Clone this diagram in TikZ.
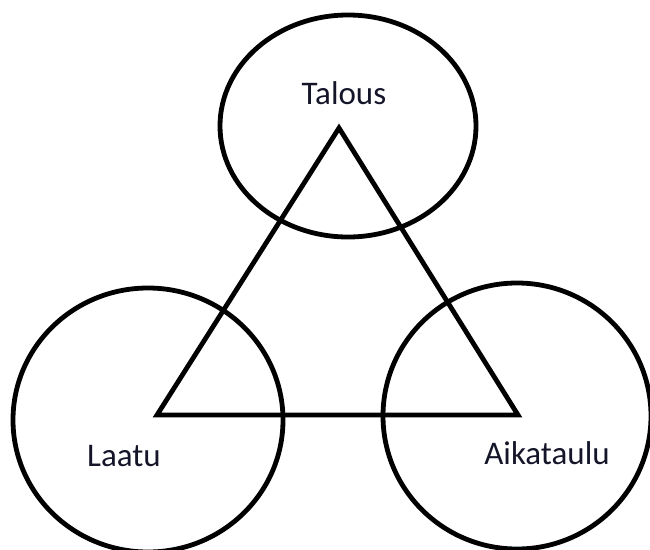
\documentclass[tikz,border=0pt]{standalone}
\usepackage{fontspec}
\setmainfont{Carlito}
\definecolor{ringblack}{HTML}{000000}
\definecolor{labelink}{HTML}{15152A}

\begin{document}
\begin{tikzpicture}[
        x=1pt, y=-1pt,
        every node/.style={font=\fontsize{33}{38}\selectfont},
        ring/.style={draw=ringblack, line width=4.8pt},
        edge/.style={draw=ringblack, line width=4.8pt, line join=miter},
        lbl/.style={text=labelink, anchor=base, inner sep=0pt},
      ]
      \useasboundingbox (0,0) rectangle (650,549);

      % circles
      \draw[ring] (348,126) ellipse [x radius=128, y radius=111];
      \draw[ring] (148,420) ellipse [x radius=135, y radius=132];
      \draw[ring] (517,416) ellipse [x radius=134, y radius=133];

      % triangle corners
      \coordinate (top)   at (339,128);
      \coordinate (left)  at (157,415);
      \coordinate (right) at (518,415);
      \draw[edge] (top) -- (left) -- (right) -- cycle;

      \node[lbl] (talous)    at (344,104) {Talous};
      \node[lbl] (laatu)     at (124,466) {Laatu};
      \node[lbl] (aikataulu) at (547,464) {Aikataulu};
    \end{tikzpicture}
\end{document}
